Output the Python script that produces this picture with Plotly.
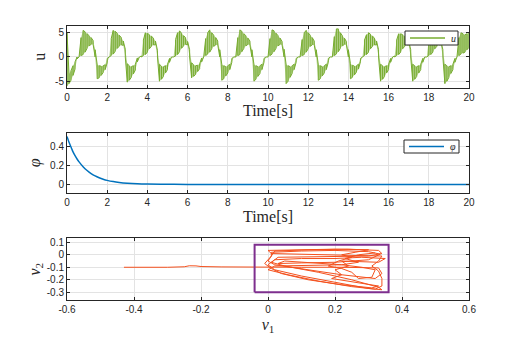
import numpy as np
import plotly.graph_objects as go

# control signal u: chattering band, lower / upper envelope sampled every 0.1 s
t_u = np.round(np.arange(0, 20.05, 0.1), 2)
u_lo = [-6.0, -5.5, -4.8, -3.8, -2.5, -0.4, 0, 0.3, 0.5, 1.0,
        1.8, 2.3, 2.6, 2.6, 0.0, -4.5, -4.3, -3.8, -3.2, -2.6,
        -1.2, 0, 0.3, 0.6, 1.2, 1.8, 2.2, 2.5, 2.4, 0.0,
        -5.2, -4.8, -4.2, -3.5, -2.7, -1.0, 0, 0, 0.3, 0.5,
        1.0, 1.7, 2.2, 2.5, 2.5, 0.0, -5.0, -4.6, -4.0, -3.3,
        -2.6, -1.1, 0, 0, 0.2, 0.5, 1.1, 1.8, 2.3, 2.6,
        2.5, 0.0, -4.3, -4.0, -3.6, -3.0, -2.4, -1.0, 0, 0.3,
        0.6, 1.0, 1.7, 2.2, 2.5, 2.5, 0.0, -4.8, -4.5, -3.9,
        -3.3, -2.6, -1.1, 0, 0, 0.3, 0.5, 1.1, 1.8, 2.3,
        2.6, 2.5, 0.0, -5.0, -4.6, -4.0, -3.4, -2.6, -1.1, 0,
        0, 0.3, 0.6, 1.1, 1.8, 2.3, 2.6, 2.5, 0.0, -5.5,
        -5.0, -4.2, -3.4, -2.6, -1.1, 0, 0, 0.3, 0.5, 1.0,
        1.7, 2.2, 2.5, 2.5, 0.0, -4.8, -4.5, -3.9, -3.3, -2.6,
        -1.1, 0, 0, 0.3, 0.6, 1.1, 1.8, 2.3, 2.6, 2.5,
        0.0, -4.5, -4.2, -3.7, -3.1, -2.5, -1.0, 0, 0.3, 0.5,
        1.0, 1.7, 2.2, 2.5, 2.5, 0.0, -5.0, -4.6, -4.0, -3.3,
        -2.6, -1.1, 0, 0, 0.3, 0.5, 1.0, 1.7, 2.2, 2.5,
        2.5, 0.0, -5.0, -4.6, -4.0, -3.3, -2.6, -1.1, 0, 0,
        0.3, 0.5, 1.0, 1.7, 2.2, 2.5, 2.5, 0.0, -5.5, -5.0,
        -4.2, -3.4, -2.6, -1.1, 0, 0.3, 0.6, 0.8, 1.0, 1.5,
        2.0]
u_hi = [5.0, -3.5, -2.8, -1.8, -1.0, 0, 0, 4.0, 5.5, 5.2,
        4.8, 4.4, 4.0, 3.4, 1.5, -1.5, -1.8, -1.9, -1.8, -1.6,
        -0.3, 0, 3.8, 5.5, 5.3, 4.9, 4.5, 4.0, 3.3, 1.6,
        -1.4, -1.8, -2.0, -1.8, -1.5, -0.2, 0, 0.2, 3.5, 5.0,
        4.9, 4.6, 4.3, 3.9, 3.3, 1.4, -1.5, -1.9, -2.0, -1.8,
        -1.5, -0.3, 0, 0, 3.6, 5.0, 5.4, 4.9, 4.4, 4.0,
        3.2, 1.5, -1.2, -1.6, -1.8, -1.7, -1.4, -0.2, 0, 3.8,
        5.0, 5.6, 5.0, 4.5, 4.0, 3.3, 1.5, -1.5, -1.8, -2.0,
        -1.8, -1.5, -0.3, 0, 0.2, 4.0, 5.6, 5.3, 4.8, 4.4,
        3.9, 3.3, 1.5, -1.5, -1.8, -2.0, -1.8, -1.5, -0.3, 0,
        0, 3.8, 5.6, 5.4, 4.9, 4.4, 3.9, 3.2, 1.6, -1.5,
        -1.8, -2.0, -1.8, -1.5, -0.3, 0, 0.2, 3.6, 5.0, 5.5,
        5.0, 4.5, 4.0, 3.3, 1.5, -1.5, -1.8, -2.0, -1.8, -1.5,
        -0.3, 0, 0, 4.2, 5.8, 5.8, 5.0, 4.4, 3.9, 3.2,
        1.5, -1.4, -1.7, -1.9, -1.8, -1.5, -0.3, 0, 3.5, 4.6,
        5.0, 4.7, 4.3, 3.9, 3.3, 1.5, -1.5, -1.8, -2.0, -1.8,
        -1.5, -0.3, 0, 0.2, 3.5, 4.8, 4.8, 4.6, 4.3, 3.9,
        3.3, 1.5, -1.5, -1.8, -2.0, -1.8, -1.5, -0.3, 0, 0,
        3.6, 5.0, 4.9, 4.6, 4.3, 3.9, 3.3, 1.5, -1.5, -1.8,
        -2.0, -1.8, -1.5, -0.3, 0, 4.0, 5.0, 4.8, 4.6, 4.8,
        5.0]

# phi decay
t_phi = [0, 0.1, 0.2, 0.3, 0.4, 0.5, 0.6, 0.8, 1.0, 1.2, 1.4, 1.6, 1.8, 2.0,
         2.3, 2.6, 3.0, 3.5, 4.0, 5.0, 6.0, 8.0, 10.0, 12.0, 14.0, 16.0, 18.0, 20.0]
phi = [0.50, 0.44, 0.39, 0.34, 0.30, 0.265, 0.235, 0.185, 0.145, 0.113, 0.088, 0.069, 0.054, 0.042,
       0.029, 0.020, 0.012, 0.006, 0.003, 0.001, 0, 0, 0, 0, 0, 0, 0, 0]

# phase portrait (nu1, nu2)
nu_path = [(-0.43, -0.100), (-0.36, -0.101), (-0.30, -0.100), (-0.25, -0.096), (-0.235, -0.088),
           (-0.215, -0.089), (-0.20, -0.094), (-0.14, -0.097), (-0.08, -0.099), (-0.02, -0.101),
           (0.10, -0.100), (0.22, -0.100), (0.33, -0.105), (0.34, -0.15), (0.32, -0.19),
           (0.22, -0.16), (0.12, -0.12), (0.02, -0.08), (0.00, -0.05), (0.02, 0.03),
           (0.12, 0.040), (0.24, 0.045), (0.33, 0.035), (0.34, 0.01), (0.30, -0.01),
           (0.15, -0.015), (0.03, -0.02), (0.01, -0.06), (0.05, -0.09), (0.15, -0.14),
           (0.25, -0.20), (0.33, -0.26), (0.34, -0.28), (0.30, -0.27), (0.20, -0.22),
           (0.10, -0.17), (0.02, -0.12), (0.00, -0.08), (0.02, -0.04), (0.10, -0.03),
           (0.20, -0.03), (0.28, -0.02), (0.35, -0.03), (0.33, -0.06), (0.22, -0.05),
           (0.24, -0.09), (0.20, -0.12), (0.22, -0.16), (0.19, -0.19), (0.26, -0.22),
           (0.33, -0.25), (0.31, -0.265), (0.22, -0.24), (0.12, -0.20), (0.04, -0.15),
           (0.01, -0.11), (-0.01, -0.07), (0.01, -0.01), (0.01, 0.02), (0.10, 0.03),
           (0.20, 0.035), (0.30, 0.025), (0.335, 0.005), (0.30, -0.04), (0.20, -0.06),
           (0.10, -0.065), (0.03, -0.07), (0.05, -0.05), (0.15, -0.07), (0.22, -0.08),
           (0.28, -0.10), (0.32, -0.12), (0.31, -0.18), (0.27, -0.19), (0.25, -0.14),
           (0.22, -0.11), (0.18, -0.09), (0.21, -0.05), (0.25, -0.02), (0.22, 0.00),
           (0.26, 0.02), (0.30, 0.04), (0.20, 0.045), (0.08, 0.04), (0.00, 0.035),
           (0.01, 0.01), (0.08, 0.005), (0.18, 0.00), (0.28, -0.01), (0.34, -0.01),
           (0.33, -0.05), (0.31, -0.09), (0.33, -0.13), (0.34, -0.19), (0.34, -0.25),
           (0.32, -0.275), (0.25, -0.255), (0.15, -0.21), (0.06, -0.16), (0.00, -0.12),
           (0.02, -0.09), (0.12, -0.085), (0.22, -0.08), (0.27, -0.06), (0.23, -0.03),
           (0.27, 0.00), (0.32, 0.015)]
nu1 = [p[0] for p in nu_path]
nu2 = [p[1] for p in nu_path]

# invariant box drawn around the attractor
box_nu1 = [-0.04, 0.36]
box_nu2 = [-0.30, 0.08]

# zigzag between envelopes -> chattering strokes
seg = np.column_stack([u_lo, u_hi])
seg[1::2] = seg[1::2, ::-1]
u_x = np.repeat(t_u, 2)
u_y = seg.ravel()

GREEN = '#77AC30'
BLUE = '#0072BD'
ORANGE = '#F4511E'
PURPLE = '#7E2F8E'
AX = '#262626'
GRID = '#E3E3E3'
SERIF = 'Liberation Serif, DejaVu Serif, serif'
SANS = 'Liberation Sans, Arial, sans-serif'

fig = go.Figure()
# band fill (chatter looks almost solid in the reference)
fig.add_trace(go.Scatter(x=list(t_u) + list(t_u[::-1]), y=u_hi + u_lo[::-1], mode='none',
                         fill='toself', fillcolor='rgba(119,172,48,0.55)', showlegend=False,
                         hoverinfo='skip', xaxis='x', yaxis='y'))
fig.add_trace(go.Scatter(x=u_x, y=u_y, mode='lines', showlegend=False,
                         line=dict(color=GREEN, width=1), xaxis='x', yaxis='y'))
fig.add_trace(go.Scatter(x=t_phi, y=phi, mode='lines', line_shape='spline', showlegend=False,
                         line=dict(color=BLUE, width=1.5), xaxis='x2', yaxis='y2'))
fig.add_trace(go.Scatter(x=nu1, y=nu2, mode='lines', showlegend=False,
                         line=dict(color=ORANGE, width=1), xaxis='x3', yaxis='y3'))
fig.add_trace(go.Scatter(x=[box_nu1[0], box_nu1[1], box_nu1[1], box_nu1[0], box_nu1[0]],
                         y=[box_nu2[0], box_nu2[0], box_nu2[1], box_nu2[1], box_nu2[0]],
                         mode='lines', showlegend=False, line=dict(color=PURPLE, width=2),
                         xaxis='x3', yaxis='y3'))

W, H = 518, 354
xd = [67 / W, 469 / W]


def yd(top, bot):
    return [1 - bot / H, 1 - top / H]


def px(x, y):
    return x / W, 1 - y / H


# small MATLAB-style legend boxes (plotly's own legend is too tall here)
def add_legend(x0, y0, x1, y1, color, label):
    ax0, ay0 = px(x0, y0)
    ax1, ay1 = px(x1, y1)
    fig.add_shape(type='rect', xref='paper', yref='paper', x0=ax0, y0=ay1, x1=ax1, y1=ay0,
                  line=dict(color=AX, width=1), fillcolor='white', layer='above')
    ym = (ay0 + ay1) / 2
    fig.add_shape(type='line', xref='paper', yref='paper', x0=ax0 + 5 / W, x1=ax0 + 40 / W,
                  y0=ym, y1=ym, line=dict(color=color, width=1.5), layer='above')
    fig.add_annotation(xref='paper', yref='paper', x=ax0 + 44 / W, y=ym, xanchor='left',
                       yanchor='middle', text=label, showarrow=False,
                       font=dict(family=SERIF, size=10, color=AX))


add_legend(405, 31, 458, 45, GREEN, '<i>u</i>')
add_legend(404, 140, 459, 153, BLUE, '<i>φ</i>')

common = dict(showline=True, linecolor=AX, linewidth=1, mirror='allticks', ticks='inside',
              ticklen=3, tickcolor=AX, showgrid=True, gridcolor=GRID, gridwidth=1,
              zeroline=False, automargin=False, tickfont=dict(family=SANS, size=10, color=AX))

time_ticks = list(range(0, 21, 2))
fig.update_layout(
    width=W, height=H, margin=dict(l=0, r=0, t=0, b=0),
    paper_bgcolor='white', plot_bgcolor='white', showlegend=False,
    xaxis=dict(domain=xd, anchor='y', range=[0, 20], tickvals=time_ticks,
               title=dict(text='Time[s]', font=dict(family=SERIF, size=16, color=AX), standoff=2), **common),
    yaxis=dict(domain=yd(26, 87.5), anchor='x', range=[-6.3, 6.4], tickvals=[-5, 0, 5],
               ticktext=['-5', '0', '5'],
               title=dict(text='u', font=dict(family=SERIF, size=16, color=AX), standoff=5), **common),
    xaxis2=dict(domain=xd, anchor='y2', range=[0, 20], tickvals=time_ticks,
                title=dict(text='Time[s]', font=dict(family=SERIF, size=16, color=AX), standoff=2), **common),
    yaxis2=dict(domain=yd(132.7, 193), anchor='x2', range=[-0.09, 0.54], tickvals=[0, 0.2, 0.4],
                ticktext=['0', '0.2', '0.4'],
                title=dict(text='<i>φ</i>', font=dict(family=SERIF, size=16, color=AX), standoff=5), **common),
    xaxis3=dict(domain=xd, anchor='y3', range=[-0.6, 0.6], tickvals=[-0.6, -0.4, -0.2, 0, 0.2, 0.4, 0.6],
                ticktext=['-0.6', '-0.4', '-0.2', '0', '0.2', '0.4', '0.6'],
                title=dict(text='<i>ν</i><sub>1</sub>', font=dict(family=SERIF, size=16, color=AX), standoff=4),
                **common),
    yaxis3=dict(domain=yd(238.3, 300), anchor='x3', range=[-0.362, 0.132],
                tickvals=[-0.3, -0.2, -0.1, 0, 0.1], ticktext=['-0.3', '-0.2', '-0.1', '0', '0.1'],
                title=dict(text='<i>ν</i><sub>2</sub>', font=dict(family=SERIF, size=16, color=AX), standoff=2),
                **common),
)

fig.write_html("out.html", config={'displayModeBar': False},
               post_script="document.body.style.margin='0';")
